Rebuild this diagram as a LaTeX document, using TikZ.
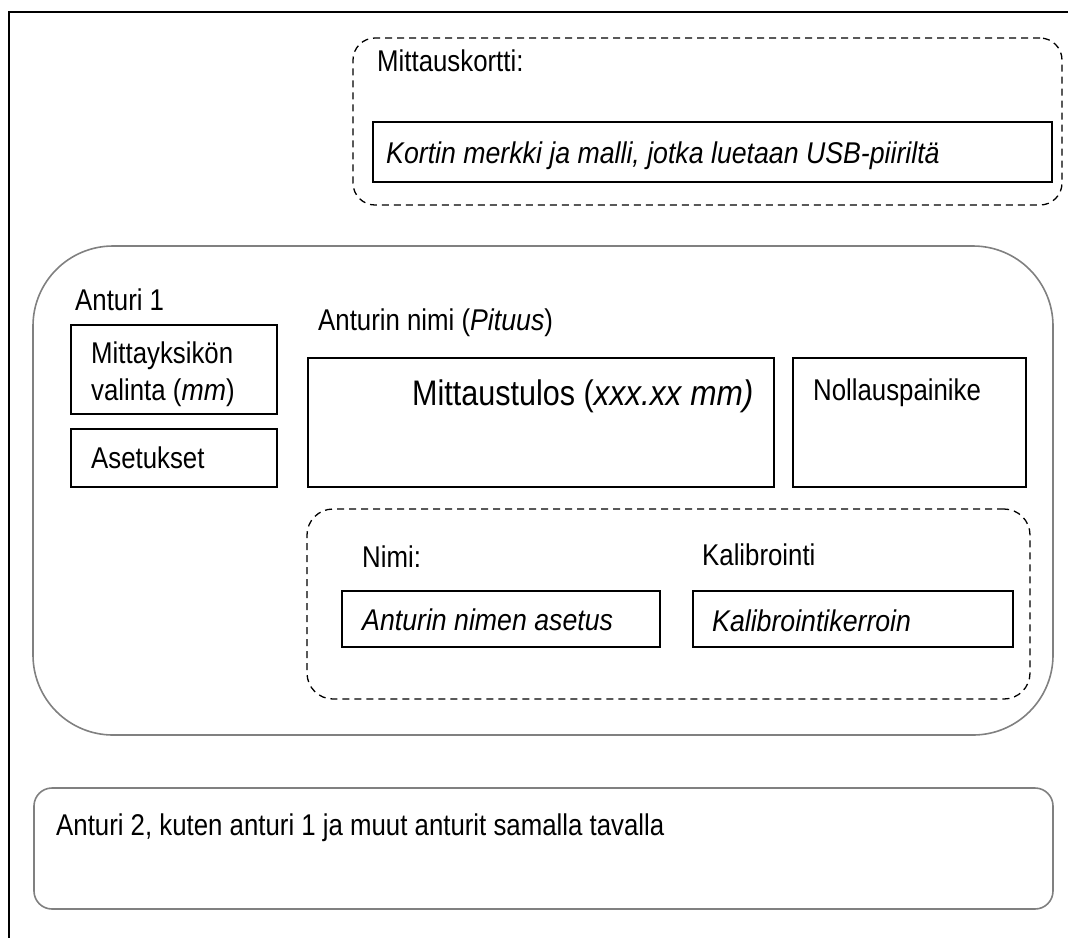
\documentclass[tikz,border=0pt]{standalone}
\usepackage{fontspec}
\setmainfont{Liberation Sans}[FakeStretch=0.86, ItalicFeatures={FakeStretch=0.89}]
\begin{document}
\begin{tikzpicture}[x=1pt,y=-1pt,
  frameline/.style={line width=1.6pt},
  sbox/.style={draw, line width=1.6pt, inner sep=0pt, outer sep=0pt, anchor=north west},
  grayround/.style={draw=black!50, line width=1.6pt, inner sep=0pt, outer sep=0pt, anchor=north west},
  dashround/.style={draw, dash pattern=on 7pt off 5pt, line width=1.3pt, inner sep=0pt, outer sep=0pt, anchor=north west},
  lbl/.style={anchor=base west, inner sep=0pt, font=\fontsize{30}{37}\selectfont},
  biglbl/.style={anchor=base west, inner sep=0pt, font=\fontsize{35.5}{40}\selectfont},
]
\useasboundingbox (0,0) rectangle (1068,938);
\coordinate (tl) at (9,12);
\coordinate (tr) at (1068,12);
\coordinate (bl) at (9,938);
\draw[frameline] (tr) -- (tl) -- (bl);

% measurement card
\node[dashround, rounded corners=22pt, minimum width=709pt, minimum height=167pt] (card) at (353,38) {};
\node[lbl] (cardlbl) at (377,71) {Mittauskortti:};
\node[sbox, minimum width=679pt, minimum height=60pt] (cardbox) at (373,122) {};
\node[lbl] (cardtxt) at (386,163) {\itshape Kortin merkki ja malli, jotka luetaan USB-piiriltä};

% sensor 1
\node[grayround, rounded corners=80pt, minimum width=1020pt, minimum height=489pt] (s1) at (33,246) {};
\node[lbl] (s1lbl) at (75,310) {Anturi 1};
\node[sbox, minimum width=206pt, minimum height=89pt] (unit) at (71,325) {};
\node[lbl] (unittxta) at (91,363) {Mittayksikön};
\node[lbl] (unittxtb) at (91,400) {valinta (\textit{mm})};
\node[sbox, minimum width=206pt, minimum height=58pt] (set) at (71,429) {};
\node[lbl] (settxt) at (91,468) {Asetukset};

\node[lbl] (namelbl) at (318,330) {Anturin nimi (\textit{Pituus})};
\node[sbox, minimum width=466pt, minimum height=129pt] (result) at (308,358) {};
\node[biglbl] (resulttxt) at (412,405) {Mittaustulos (\textit{xxx.xx mm)}};
\node[sbox, minimum width=233pt, minimum height=129pt] (reset) at (793,358) {};
\node[lbl] (resettxt) at (813,400) {Nollauspainike};

% settings group
\node[dashround, rounded corners=26pt, minimum width=723pt, minimum height=190pt] (cal) at (307,509) {};
\node[lbl] (nimilbl) at (362,567) {Nimi:};
\node[lbl] (kallbl) at (702,565) {Kalibrointi};
\node[sbox, minimum width=318pt, minimum height=56pt] (namebox) at (342,591) {};
\node[lbl] (nametxt) at (362,630) {\itshape Anturin nimen asetus};
\node[sbox, minimum width=320pt, minimum height=56pt] (kalbox) at (693,591) {};
\node[lbl] (kaltxt) at (712,631) {\itshape Kalibrointikerroin};

% sensor 2
\node[grayround, rounded corners=18pt, minimum width=1019pt, minimum height=121pt] (s2) at (34,788) {};
\node[lbl] (s2txt) at (56,835) {Anturi 2, kuten anturi 1 ja muut anturit samalla tavalla};
\end{tikzpicture}
\end{document}
